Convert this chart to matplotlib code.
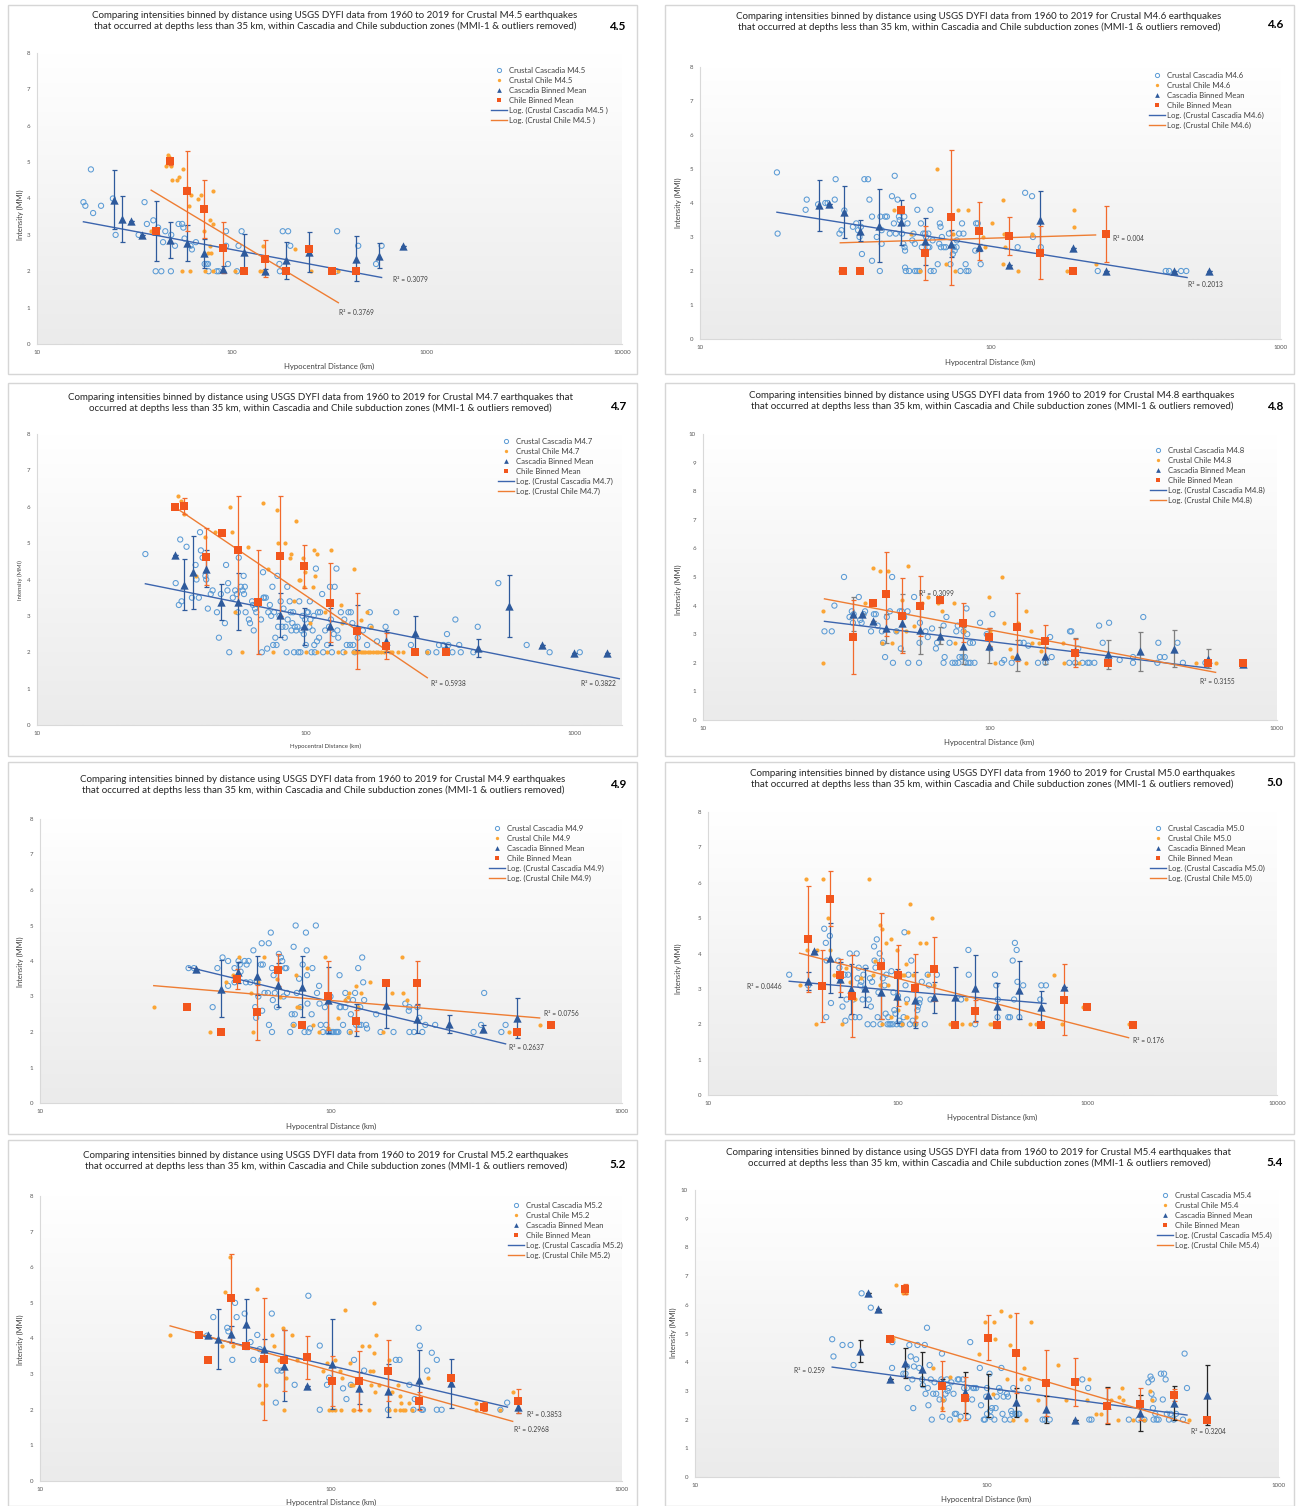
import numpy as np
import matplotlib.pyplot as plt
from matplotlib.colors import LinearSegmentedColormap
from matplotlib.lines import Line2D
from matplotlib.patches import Rectangle

plt.rcParams['font.family'] = ['Lato', 'DejaVu Sans']

W, H = 1299, 1506

# ---------------- data ----------------
# scatter: (distance km, MMI) ; binned: (distance km, mean MMI, error)
# fits: Log trendline y = a*ln(x) + b over [x0, x1]

# M4.5
cas45 = [(17.3,3.9),(17.7,3.8),(18.9,4.8),(19.4,3.6),(21.3,3.8),(25.3,3.0),(33.2,3.0),(35.6,3.9),(36.6,3.3),
         (39.5,3.4),(40.6,2.0),(43.4,2.0),(41.8,3.2),(44.3,2.8),(45.5,3.1),(48.6,2.0),(48.8,3.0),(51.0,2.7),
         (53.2,3.3),(55.5,3.3),(56.3,3.2),(57.1,2.9),(61.3,2.7),(62.3,2.6),(65.3,2.8),(72.4,2.2),(74.1,2.2),
         (75.3,2.2),(75.9,2.0),(83.5,2.0),(85.5,2.0),(93.2,3.1),(93.2,2.7),(95.4,2.2),(108,2.7),(112,3.1),
         (106,2.0),(175,2.2),(176,2.0),(182,3.1),(194,3.1),(199,2.7),(343,2.0),(346,3.1),(444,2.7),(548,2.2),
         (585,2.7),(24.5,4.0)]
chi45 = [(46.9,5.2),(47.8,5.15),(45.9,4.9),(48.4,4.9),(49.1,4.5),(52.1,4.5),(53.4,4.6),(55.8,4.8),(59.1,4.3),
         (59.9,3.8),(61.6,4.1),(66.8,4.0),(69.3,4.1),(79.7,4.2),(77.1,3.4),(79.7,3.3),(71.8,3.1),(38.2,3.1),
         (55.1,2.0),(60.8,2.0),(72.4,2.0),(77.8,2.5),(77.1,2.7),(80.0,2.0),(103,2.0),(112,2.0),(145,2.7),
         (145,2.0),(139,2.0),(210,2.6),(253,2.0),(351,2.0),(75,2.5)]
cbin45 = [(24.7,3.97,0.82),(27.2,3.44,0.63),(30.5,3.39,0),(34.7,3.0,0),(40.6,3.1,0.82),(48.1,2.86,0.5),
          (58.5,2.77,0.5),(72.2,2.5,0.4),(89.9,2.05,0.1),(115,2.52,0.5),(147,2.0,0.05),(190,2.3,0.5),
          (248,2.53,0.55),(430,2.34,0.62),(566,2.43,0.35),(753,2.69,0)]
hbin45 = [(40.6,3.1,0),(48.1,5.02,0.1),(58.5,4.21,1.1),(72.2,3.71,0.8),(90,2.65,0.7),(115,2.0,0),
          (147,2.35,0.5),(189,2.0,0),(248,2.6,0),(327,2.0,0),(430,2.0,0)]
fit45 = [(-0.435, 4.60, 17.3, 585), (-1.40, 9.34, 38.5, 351)]

# M4.6
cas46 = [(18.4,4.9),(18.5,3.1),(23.1,3.8),(23.3,4.1),(25.5,3.96),(27.0,4.0),(27.5,4.0),(29.1,4.1),(29.3,4.7),
         (30.2,3.1),(30.7,3.2),(31.4,3.78),(33.6,3.3),(34.5,3.4),(35.0,3.2),(35.4,3.0),(35.8,3.3),(36.1,2.5),
         (36.8,4.7),(37.9,4.7),(38.3,4.1),(39.1,3.6),(39.1,2.3),(40.6,3.0),(41.6,2.0),(41.8,3.6),(42.2,3.2),
         (42.2,2.8),(43.4,3.6),(44.0,3.6),(45.0,3.1),(45.8,4.2),(46.5,3.4),(46.8,4.8),(47.2,3.1),(47.9,4.1),
         (48.4,3.6),(48.7,3.5),(49.5,3.8),(49.6,3.1),(50.1,2.8),(50.5,3.6),(50.6,2.7),(50.8,2.6),(50.8,2.1),
         (51.1,2.0),(51.8,3.4),(52.5,2.0),(53.8,2.9),(54.2,4.2),(54.3,3.1),(54.9,2.8),(55.0,2.0),(55.9,2.0),
         (56.0,3.8),(56.9,2.0),(57.6,3.4),(58.0,2.7),(58.7,3.1),(59.6,3.1),(60.0,3.0),(60.9,2.7),(61.1,3.1),
         (61.6,2.7),(62.1,3.8),(62.2,2.0),(63.2,2.9),(63.8,2.0),(65.8,2.2),(66.6,2.8),(66.9,3.4),(67.3,3.3),
         (67.5,2.7),(68.0,3.0),(69.1,2.7),(70.2,2.7),(71.9,3.1),(72.8,2.2),(74.2,2.5),(74.6,2.7),(75.3,2.6),
         (76.4,2.7),(76.6,2.9),(78.0,3.1),(78.8,2.0),(79.8,3.4),(80.7,3.1),(82.1,2.2),(82.6,2.0),(84.0,2.0),
         (89.2,3.4),(90.4,3.4),(88.6,2.6),(92.5,2.2),(124,2.7),(131.6,4.3),(139,4.2),(140,3.0),(149,2.7),
         (234,2.0),(401,2.0),(412,2.0),(453,2.0),(472,2.0)]
chi46 = [(30.4,2.0),(31.0,2.0),(35.0,2.0),(35.6,2.0),(46.6,3.8),(53.3,3.1),(57.4,2.0),(65.5,5.0),(70.0,2.2),
         (74.1,3.1),(75.5,2.0),(77.5,3.8),(83.5,3.8),(94.1,3.0),(95.6,2.7),(101.3,3.4),(110,4.1),(110.6,2.2),
         (111,3.1),(112,2.7),(124,2.0),(139,3.1),(183,2.0),(194,3.8),(194,3.3),(230,2.2)]
cbin46 = [(25.6,3.94,0.75),(27.9,3.97,0),(31.4,3.74,0.76),(35.6,3.19,0.3),(41.4,3.33,1.07),(49.0,3.43,0.66),
          (59.6,2.87,0.7),(73,2.8,0.4),(91.5,2.7,0.1),(115.5,2.19,0),(148,3.5,0.85),(192,2.68,0),(249,2.0,0),
          (428,2.0,0),(567,2.0,0)]
hbin46 = [(31.0,2.0,0),(35.5,2.0,0),(49.2,3.8,0.1),(59.6,2.53,0.78),(73,3.58,1.98),(91.5,3.17,0.86),
          (116,3.03,0.56),(148,2.54,0.78),(192,2.0,0),(250,3.09,0.83)]
fit46 = [(-0.591, 5.45, 18.4, 475), (0.114, 2.44, 30.4, 230)]

# M4.7
cas47 = [(25.3,4.7),(32.8,3.9),(33.7,3.3),(34.1,5.1),(34.5,3.4),(36.0,4.9),(37.7,3.5),(38.9,4.4),(39.2,4.0),
         (40.0,3.5),(40.4,5.3),(40.7,4.8),(41.3,4.6),(42.3,4.1),(42.6,4.0),(43.2,3.2),(44.3,3.6),(45.0,3.7),
         (46.7,3.1),(47.5,2.4),(48.3,3.6),(50.0,2.8),(50.5,4.4),(51.1,3.7),(51.4,3.9),(51.9,2.0),(53.5,3.5),
         (54.6,3.7),(55.4,3.6),(55.9,3.1),(56.3,4.6),(57.3,3.8),(58.2,3.7),(58.7,4.1),(58.9,3.6),(59.3,3.8),
         (59.7,3.1),(61.4,2.9),(62.0,2.8),(63.1,3.4),(63.6,3.3),(64.0,2.6),(64.7,3.2),(65.4,3.1),(66.9,3.4),
         (68.1,2.9),(68.6,2.0),(69.3,4.2),(69.6,3.5),(70.0,3.5),(71.0,3.5),(71.8,2.1),(72.5,3.1),(73.5,3.3),
         (74.3,3.0),(75.1,3.8),(75.6,2.2),(76.2,3.1),(77.0,2.4),(77.8,2.2),(78.4,4.1),(78.9,2.7),(79.8,3.0),
         (80.6,3.4),(81.8,2.7),(82.6,3.2),(83.5,2.4),(84.1,2.7),(84.8,2.0),(85.3,3.8),(85.6,2.9),(87.1,3.4),
         (87.8,3.1),(88.4,2.6),(89.1,2.8),(89.7,3.1),(90.4,2.0),(91.0,2.7),(92.1,2.6),(93.1,2.7),(93.8,2.0),
         (94.5,3.4),(95.5,2.0),(96.5,2.6),(97.2,3.0),(98.3,2.5),(99.3,2.9),(100,2.2),(101,3.1),(102,3.1),
         (103,2.7),(103.5,3.4),(104,2.9),(105,2.0),(106,2.6),(107,3.0),(107.5,2.2),(108,2.0),(109,4.3),
         (110,2.3),(111,3.1),(112,2.4),(113,3.1),(115,3.6),(116,2.0),(118,2.6),(120,2.2),(122,2.7),(123,3.8),
         (124,2.9),(125,2.0),(127,2.5),(128,3.8),(130,4.3),(131,2.6),(132,2.4),(135,3.1),(138,2.0),(139,2.9),
         (142,2.2),(144,3.1),(146,2.2),(147,3.1),(149,2.8),(150,2.2),(152,2.0),(154,2.6),(156,2.4),(163,2.6),
         (169,2.2),(173,3.1),(174,2.7),(184,2.3),(198,2.7),(200,2.2),(217,3.1),(246,2.2),(285,2.0),(306,2.0),
         (313,2.2),(325,2.2),(335,2.5),(339,2.2),(351,2.0),(360,2.9),(372,2.2),(377,2.0),(420,2.0),(436,2.7),
         (520,3.9),(663,2.2),(807,2.0),(1045,2.0)]
chi47 = [(32.0,6.0),(32.8,6.05),(33.6,6.3),(34.3,6.15),(35.3,5.8),(42.3,5.18),(39.2,4.1),(45.9,5.3),(52.2,6.0),
         (53.0,5.3),(54.4,3.1),(58.1,2.0),(60.8,4.9),(69.2,6.1),(72.5,4.3),(75.6,2.0),(78.4,5.9),(78.9,5.0),
         (83.5,5.0),(88.2,4.7),(87.5,4.6),(90.4,3.4),(92.2,5.6),(94.5,4.0),(95.3,4.0),(97.2,4.6),(98.3,3.8),
         (99.3,4.2),(100,2.0),(107,4.8),(108,4.1),(110,4.7),(106,3.8),(104,2.8),(118,3.1),(124,4.8),(135,3.3),
         (136,2.8),(151,4.3),(160,2.9),(169,3.1),(175,2.7),(150,2.0),(153,2.0),(157,2.0),(160,2.0),(163,2.0),
         (166,2.0),(170,2.0),(174,2.0),(178,2.0),(182,2.0),(186,2.0),(190,2.0),(195,2.0),(205,2.0),(210,2.0),
         (220,2.0),(230,2.0),(251,2.0),(283,2.0),(110,2.0),(120,2.0),(132,2.0),(140,2.0)]
cbin47 = [(32.7,4.68,0),(35.3,3.86,0.7),(38.2,4.2,1.0),(42.6,4.3,0.5),(48.3,3.38,0.5),(55.9,3.39,0.78),
          (80,3.03,0.6),(98.3,2.71,0.5),(123,2.71,0.5),(155,2.67,0.62),(198,2.32,0.3),(255,2.53,0.47),
          (333,2.12,0.1),(436,2.12,0.24),(571,3.26,0.85),(755,2.19,0),(998,1.98,0),(1321,1.98,0)]
hbin47 = [(32.7,6.0,0),(35.3,6.03,0.22),(42.6,4.63,0.78),(48.6,5.28,0),(56.1,4.8,1.5),(66.5,3.39,1.43),
          (80,4.65,1.65),(98.3,4.36,0.6),(123,3.36,1.08),(155,2.59,1.05),(198,2.17,0.35),(255,2.0,0),(333,2.0,0)]
fit47 = [(-0.643, 5.96, 25.3, 1466), (-2.17, 13.55, 32.7, 283)]

# M4.8
cas48 = [(26.5,3.1),(28.1,3.1),(28.7,4.0),(31.0,5.0),(32.4,3.6),(33.0,3.8),(33.3,3.4),(33.5,3.7),(34.9,4.3),
         (35.3,3.5),(35.7,3.4),(36.3,3.7),(36.7,3.8),(38.5,3.1),(39.4,3.7),(40.0,3.7),(40.6,3.3),(42.0,3.1),
         (42.4,2.7),(43.1,2.2),(43.7,3.6),(44.8,3.8),(45.6,5.0),(45.9,2.0),(47.2,3.1),(48.5,3.8),(48.9,2.5),
         (49.3,3.8),(50.2,3.6),(51.6,3.8),(51.9,2.0),(54.4,4.3),(56.6,2.0),(56.8,2.7),(57.0,3.4),(59.6,3.1),
         (60.7,2.9),(62.8,3.2),(64.8,2.5),(65.4,2.7),(68.9,3.3),(68.9,2.0),(69.5,2.2),(70.5,3.6),(72.3,2.7),
         (74.0,2.0),(75.6,2.0),(76.3,3.1),(77.2,3.3),(77.6,2.0),(78.3,2.2),(80.2,2.2),(80.9,3.1),(81.7,2.2),
         (82.2,2.0),(82.8,3.9),(83.3,3.0),(84.1,2.0),(85.1,2.7),(85.5,2.0),(87.2,2.7),(88.3,2.0),(92.3,3.4),
         (97.4,3.0),(100,2.5),(102,3.7),(110,2.0),(112,2.1),(119,2.0),(127,2.7),(131,2.7),(136,2.6),(147,2.0),
         (156,2.0),(162,2.9),(164,2.2),(189,2.0),(190,3.1),(192,3.1),(198,2.0),(203,2.5),(210,2.0),(219,2.0),
         (222,2.0),(231,2.0),(240,3.3),(247,2.7),(260,3.4),(283,2.1),(315,2.2),(315,2.0),(342,3.6),(383,2.0),
         (386,2.7),(391,2.2),(406,2.2),(450,2.7),(470,2.0),(563,2.0),(575,2.0)]
chi48 = [(26.2,3.8),(26.2,2.0),(36.8,4.1),(39.1,5.3),(41.3,5.2),(44.0,5.2),(42.0,2.7),(45.5,2.7),(47.0,3.1),
         (49.3,4.2),(50.9,3.1),(51.8,5.4),(54.4,3.3),(57.9,4.1),(60.9,4.3),(66.1,4.1),(68.2,3.8),(74.7,4.1),
         (75.8,2.7),(81.2,3.1),(98.9,4.3),(100,3.1),(104,2.0),(110,5.0),(112,3.4),(117,2.5),(119,2.2),(125,3.4),
         (134,3.8),(134,2.0),(139,3.1),(140,2.7),(148,2.7),(151,2.4),(180,2.7),(181,2.0),(205,2.0),(522,2.0),
         (611,2.0)]
cbin48 = [(33.3,3.7,0.6),(35.7,3.7,0),(39.0,3.45,0),(43.5,3.2,0.5),(49.2,3.4,1.0),(56.9,3.15,0.85),
          (66.9,2.95,0.3),(80.8,2.6,0.65),(98.9,2.6,0.6),(124,2.25,0.55),(156,2.25,0.3),(198,2.4,0.45),
          (257,2.3,0.5),(334,2.4,0.67),(439,2.5,0.65),(574,2.15,0.33),(759,1.95,0.05)]
hbin48 = [(33.3,2.9,1.3),(39.0,4.1,0),(43.5,4.4,1.48),(49.2,3.65,1.32),(56.9,4.0,1.05),(67,4.2,0.1),
          (80.8,3.4,0.68),(98.9,2.9,0.3),(124,3.25,1.2),(156,2.75,0.58),(198,2.35,0.48),(257,2.0,0.08),
          (574,2.0,0),(759,2.0,0.07)]
fit48 = [(-0.531, 5.19, 26.5, 582), (-0.819, 6.92, 26.5, 611)]

# M4.9
cas49 = [(32.4,3.8),(33.8,3.8),(39.2,2.7),(40.7,3.8),(42.4,4.1),(44.3,4.0),(44.3,3.3),(46.6,3.4),(46.6,3.8),
         (48.1,4.0),(48.6,3.9),(48.9,3.7),(50.5,4.0),(51.0,3.4),(51.3,3.9),(52.1,4.0),(52.8,3.4),(54.1,4.3),
         (54.9,2.7),(55.3,2.4),(55.6,3.4),(56.3,3.0),(57.4,3.9),(57.8,4.5),(58.3,3.9),(58.0,2.6),(59.1,3.1),
         (60.7,3.1),(61.1,4.5),(61.2,2.2),(62.1,4.8),(62.7,2.0),(62.7,3.8),(63.1,2.9),(63.5,3.6),(64.1,3.1),
         (65.2,2.7),(66.2,4.2),(67.3,4.1),(68.0,4.0),(68.7,3.0),(69.5,3.8),(70.2,3.8),(70.6,3.1),(72.4,2.0),
         (73.3,2.5),(74.4,4.4),(74.4,2.2),(75.1,2.5),(75.6,5.0),(76.3,3.1),(77.7,3.5),(78.6,2.7),(79.9,3.9),
         (81.1,2.0),(82.0,4.8),(82.5,4.3),(82.7,3.6),(83.0,2.8),(83.7,2.0),(84.7,2.1),(85.8,2.5),(86.3,3.8),
         (88.7,5.0),(89.5,3.1),(91.0,3.3),(91.3,2.8),(92.2,2.2),(93.8,2.0),(95.3,2.7),(96.3,2.2),(97.5,2.0),
         (98.6,2.0),(99.6,3.0),(100,2.0),(101,2.0),(102,2.0),(104,2.0),(105,2.0),(106,2.0),(107,3.6),(107,2.7),
         (108,2.7),(110,2.2),(112,3.1),(112,2.7),(114,2.9),(116,2.0),(117,2.5),(119,2.9),(121,3.1),(122,2.2),
         (124,3.8),(125,2.2),(126,2.7),(127,2.2),(128,4.1),(129,3.4),(130,2.9),(132,2.2),(133,2.1),(143,2.5),
         (148,2.0),(164,2.0),(180,2.8),(185,2.6),(186,2.7),(186,2.0),(193,2.0),(198,2.7),(201,2.4),(206,2.0),
         (211,2.2),(228,2.2),(309,2.0),(328,2.2),(336,3.1),(385,2.0),(398,2.2)]
chi49 = [(24.6,2.7),(38.3,2.0),(43.7,3.4),(45.9,3.6),(48.1,4.1),(52.9,3.1),(54.0,2.0),(56.0,3.4),(58.8,4.1),
         (65.2,3.5),(66.6,3.0),(74.1,2.2),(75.8,3.6),(76.3,2.7),(77.9,2.7),(82.5,3.8),(86.6,2.2),(91.0,2.0),
         (95.3,4.1),(97.5,2.1),(106,2.4),(112,2.9),(114,3.0),(115,3.1),(116,2.0),(122,3.3),(124,2.7),(127,3.1),
         (136,3.4),(151,2.0),(162,3.1),(176,4.1),(177,3.1),(183,2.9),(408,2.0),(521,2.2)]
cbin49 = [(34.4,3.77,0),(42.0,3.22,0.8),(47.8,3.68,0.3),(55.5,3.59,0.55),(65.9,3.33,0.62),(79.4,3.28,0.87),
          (97.6,2.9,0.92),(122,2.34,0.45),(154,2.77,0.65),(198,2.38,0.4),(254,2.22,0.25),(333,2.09,0.1),
          (435,2.39,0.57)]
hbin49 = [(32.1,2.7,0),(42.0,2.0,0),(47.7,3.5,0.28),(55.5,2.55,0.77),(65.7,3.74,0.45),(79.4,2.2,0),
          (97.6,3.02,0.97),(122,2.32,0.3),(154,3.39,0),(198,3.37,0.62),(435,1.99,0),(570,2.19,0)]
fit49 = [(-0.861, 6.82, 32.4, 398), (-0.298, 4.26, 24.6, 521)]

# M5.0
cas50 = [(26.8,3.4),(33.8,3.1),(41.0,4.7),(41.8,4.3),(42.0,2.2),(42.2,3.8),(43.9,4.5),(44.5,2.6),(48.6,3.8),
         (49.3,3.6),(49.8,3.3),(51.2,2.5),(52.5,3.4),(53.0,2.1),(53.8,2.7),(54.8,3.4),(55.9,4.0),(57.0,2.2),
         (58.4,2.7),(59.6,2.2),(60.8,4.0),(61.4,3.3),(62.3,3.6),(62.9,2.2),(63.6,3.1),(64.3,3.2),(65.3,2.7),
         (66.0,3.4),(67.0,3.0),(67.7,3.6),(69.4,2.0),(70.4,2.7),(71.4,3.3),(72.2,2.5),(73.3,3.2),(74.4,2.0),
         (75.1,4.2),(75.5,3.8),(76.4,3.6),(77.6,4.4),(78.4,2.2),(79.2,2.9),(80.4,4.0),(81.1,2.0),(82.4,3.8),
         (83.5,3.3),(85.4,3.1),(86.4,2.3),(87.2,3.4),(88.4,2.0),(89.2,2.2),(90.5,2.0),(91.8,2.0),(92.7,3.5),
         (94.1,2.0),(95.0,2.9),(96.0,2.4),(97.4,2.3),(98.8,2.0),(100.4,2.8),(101.9,2.1),(103.4,2.0),(105,2.0),
         (107.5,2.2),(108.6,4.6),(110,3.1),(112,2.7),(114,3.4),(116,2.0),(118,3.8),(120,2.1),(124,2.0),(127,2.4),
         (128,2.5),(130,2.6),(131,2.7),(134,3.2),(139,2.0),(144,3.4),(146,3.1),(149,2.7),(161,3.4),(216,2.7),
         (236,4.1),(237,3.4),(256,2.0),(326,3.4),(331,3.1),(336,2.2),(337,2.7),(383,2.2),(391,2.2),(404,3.8),
         (415,4.3),(424,4.1),(428,3.2),(411,2.7),(438,2.2),(459,3.1),(565,2.7),(572,3.1),(605,3.1)]
chi50 = [(30.4,3.1),(32.9,6.1),(33.1,4.1),(37.3,2.0),(40.3,6.1),(37.6,4.1),(42.7,5.0),(44.1,4.1),(46.3,3.4),
         (49.8,3.4),(50.8,2.0),(53.4,3.6),(56.0,3.2),(59.3,2.7),(64.3,3.3),(71.0,6.1),(73.9,3.4),(75.9,3.8),
         (81.0,4.8),(83.0,4.7),(79.6,3.6),(81.1,3.1),(82.3,2.0),(86.7,4.3),(89.2,3.1),(91.8,4.4),(92.7,2.2),
         (98.8,4.1),(98.8,2.7),(100,2.4),(105,3.4),(106,2.0),(108,3.4),(110,2.2),(112,2.2),(110,3.7),(111,2.6),
         (113,4.6),(116,5.4),(121,3.4),(123,2.0),(125,2.2),(131,4.3),(141,4.3),(144,3.4),(152,5.0),(155,3.1),
         (189,2.0),(218,2.0),(229,2.7),(240,2.0),(307,2.0),(313,2.0),(500,2.0),(537,2.0),(556,2.0),(670,3.4),
         (737,2.0),(953,2.5),(982,2.5),(1650,2.0),(1708,2.0)]
cbin50 = [(33.8,3.23,0.25),(36.4,4.08,0),(44.0,3.87,0.98),(49.5,3.27,0.5),(57.0,3.0,0.7),(67.6,3.03,0.55),
          (81.9,2.9,0.75),(98.9,2.8,0.77),(124,2.69,0.8),(156,2.76,0.43),(200,2.76,0.85),(257,3.03,0.93),
          (334,2.53,0.65),(438,2.96,0.82),(572,2.48,0.45),(757,3.06,0)]
hbin50 = [(33.8,4.42,1.5),(39.8,3.07,1.02),(44.0,5.55,0.78),(49.8,3.38,0.47),(57.3,2.8,1.15),(81.4,3.65,1.5),
          (100,3.38,0.85),(124,3.02,0.97),(156,3.56,0.9),(200,1.99,0),(257,2.37,0.32),(334,1.99,0),
          (572,1.99,0),(757,2.69,1.0),(990,2.48,0),(1741,1.99,0)]
fit50 = [(-0.202, 3.88, 26.8, 605), (-0.598, 6.05, 30.4, 1650)]

# M5.2
cas52 = [(37.5,4.08),(39.4,4.6),(44.0,4.3),(44.4,4.2),(45.8,3.4),(46.8,5.0),(47.4,4.6),(50.5,4.7),(52.9,3.9),
         (54.1,3.4),(55.8,4.1),(56.9,3.7),(57.7,3.4),(62.6,4.7),(64.6,2.2),(65.5,3.1),(67.6,3.1),(75.0,2.7),
         (83.6,5.2),(91.5,3.8),(91.5,2.0),(96.9,2.7),(98.5,2.9),(110,2.6),(113,2.3),(117,2.7),(120,3.4),
         (130,3.1),(157,2.0),(167,3.4),(172,3.4),(186,2.7),(194,2.3),(192,2.0),(200,4.3),(202,3.8),(205,2.0),
         (207,2.0),(214,3.1),(222,3.6),(231,3.4),(231,2.0),(240,2.0),(382,2.0),(403,2.2)]
chi52 = [(28.0,4.1),(42.1,3.8),(43.2,5.3),(44.9,6.3),(45.9,3.8),(55.5,5.4),(56.4,2.7),(57.9,2.2),(60.0,2.7),
         (62.9,4.1),(63.9,3.8),(66.5,3.4),(68.2,3.4),(68.6,4.3),(68.8,2.0),(70.0,2.9),(73.6,4.1),(76.4,3.4),
         (93.8,3.1),(97.2,3.3),(98.6,2.0),(101,2.0),(103,2.0),(103,3.4),(107,3.1),(108,2.0),(109,2.9),(112,4.8),
         (116,3.3),(117,2.7),(119,2.0),(119,2.7),(120,2.0),(126,2.0),(128,3.8),(135,3.8),(136,3.1),(137,2.7),
         (135,2.0),(139,3.1),(140,5.0),(140,3.6),(142,2.5),(143,4.1),(146,2.7),(158,2.0),(158,3.4),(162,2.5),
         (166,2.0),(170,2.7),(172,2.0),(173,2.4),(174,2.2),(177,2.0),(180,2.0),(186,2.2),(190,2.0),(216,2.9),
         (314,2.2),(316,2.0),(382,2.0),(421,2.5)]
cbin52 = [(37.7,4.1,0),(40.8,3.99,0.84),(45.3,4.12,0.22),(51.0,4.41,0.7),(58.8,3.7,0.3),(68.8,3.24,1.0),
          (82.6,2.68,0),(101,3.29,1.27),(125,2.6,0.45),(157,2.54,0.75),(200,2.84,0.83),(258,2.74,0.68),
          (438,2.08,0.17)]
hbin52 = [(35.3,4.1,0),(37.7,3.4,0),(45.3,5.13,1.25),(51.0,3.8,0),(58.8,3.42,1.72),(69.0,3.39,0.85),
          (82.6,3.47,0.6),(101,2.8,0.7),(125,2.82,0.83),(157,3.1,0.85),(200,2.24,0.25),(258,2.89,0.07),
          (335,2.09,0.12),(438,2.25,0.33)]
fit52 = [(-0.829, 7.05, 35.3, 404), (-0.989, 7.65, 28.0, 421)]

# M5.4
cas54 = [(29.5,4.8),(29.8,4.2),(32.0,4.6),(34.1,4.6),(34.9,3.9),(37.2,6.4),(40.0,5.9),(47.3,3.8),(47.4,4.7),
         (51.7,3.6),(52.6,3.6),(53.2,3.85),(53.5,3.1),(54.2,4.6),(54.8,4.2),(55.5,3.4),(55.9,2.4),(56.2,3.85),
         (57.2,4.1),(57.8,4.6),(58.6,3.8),(60.0,3.4),(60.3,3.2),(61.2,4.6),(61.6,2.9),(62.3,5.2),(62.7,3.1),
         (63.0,2.5),(63.6,3.9),(64.2,3.4),(64.7,2.0),(65.4,2.9),(66.1,3.3),(67.0,2.9),(68.8,2.7),(69.8,3.4),
         (70.1,4.3),(70.3,2.1),(71.0,2.7),(72.1,2.9),(72.8,3.4),(73.3,3.0),(74.0,3.1),(74.6,2.0),(75.5,3.3),
         (76.8,2.9),(77.6,2.2),(78.5,2.2),(79.4,3.4),(80.2,3.4),(81.2,2.1),(82.7,3.4),(83.5,3.1),(85.4,3.1),
         (86.2,2.1),(87.6,4.7),(88.9,2.7),(89.6,3.1),(90.4,3.1),(91.8,3.1),(94.5,3.8),(95.4,2.5),(97.5,2.0),
         (98.4,2.0),(99.4,2.8),(100,3.1),(100,2.2),(102,3.6),(102.5,2.3),(103,2.1),(104,2.4),(106,2.0),(107,2.4),
         (108,2.8),(110,3.1),(111,3.0),(112,3.8),(113,2.2),(114,2.8),(115,2.0),(117,2.9),(118,2.8),(120,2.0),
         (121,2.3),(122,2.2),(123,3.1),(125,2.2),(126,2.2),(128,2.2),(129,2.2),(138,3.1),(155,2.0),(158,2.0),
         (164,2.0),(212,3.4),(222,3.1),(224,2.0),(228,2.0),(306,2.0),(330,2.0),(346,2.0),(357,3.3),(363,3.5),
         (366,2.9),(367,3.4),(370,2.4),(372,2.7),(372,2.0),(377,2.2),(381,2.0),(387,2.0),(394,3.6),(400,2.7),
         (404,3.6),(409,3.4),(413,2.2),(420,2.0),(425,2.2),(436,2.0),(444,2.2),(469,2.0),(475,4.3),(484,3.1)]
chi54 = [(48.9,6.7),(51.6,6.4),(52.6,6.4),(47.6,4.8),(65.2,3.8),(70.0,2.4),(70.5,2.7),(74.5,3.5),(80.0,2.0),
         (83.8,2.7),(94.1,4.3),(98.4,5.4),(105,2.9),(106,5.4),(106.5,4.8),(112,5.8),(117,3.4),(120,5.6),
         (120,4.6),(123,2.0),(131,3.4),(134,3.8),(136,2.0),(139,3.4),(142,5.4),(150,2.7),(175,3.9),(187,2.7),
         (220,2.7),(224,3.4),(237,2.2),(245,2.2),(265,2.7),(281,2.0),(284,2.8),(289,3.1),(293,2.7),(363,3.0),
         (367,2.7),(491,2.0),(315,2.0),(346,2.0)]
cbin54 = [(36.8,4.4,0.38),(39.2,6.4,0),(42.4,5.87,0),(46.7,3.4,0),(52.4,3.97,0.53),(60.0,3.76,0.6),
          (70.1,3.3,0.1),(84.2,2.95,0.72),(101,2.85,0.75),(126,2.6,0.5),(159,2.36,0.47),(200,2.0,0),
          (258,2.5,0.65),(333,2.24,0.62),(436,2.58,0.6),(569,2.86,1.05)]
hbin54 = [(46.7,4.81,0),(52.4,6.56,0.17),(70.1,3.16,0.87),(84.2,2.74,0.75),(101,4.86,0.8),(126,4.32,1.38),
          (159,3.26,1.15),(200,3.31,0.85),(258,2.49,0.6),(333,2.54,0.55),(436,2.85,0.2),(569,2.0,0)]
fit54 = [(-0.597, 5.85, 29.5, 484), (-1.30, 9.92, 46.7, 491)]

mags = ['4.5', '4.6', '4.7', '4.8', '4.9', '5.0', '5.2', '5.4']
r2_vals = [('0.3079', '0.3769'), ('0.2013', '0.004'), ('0.3822', '0.5938'), ('0.3155', '0.3099'),
           ('0.2637', '0.0756'), ('0.0446', '0.176'), ('0.3853', '0.2968'), ('0.259', '0.3204')]

# ---------------- layout (pixels in the 1299x1506 picture) ----------------
T1 = ("Comparing intensities binned by distance using USGS DYFI data from 1960 to 2019 for Crustal M{} earthquakes\n"
      "that occurred at depths less than 35 km, within Cascadia and Chile subduction zones (MMI-1 & outliers removed)")
T2 = ("Comparing intensities binned by distance using USGS DYFI data from 1960 to 2019 for Crustal M{} earthquakes that\n"
      "occurred at depths less than 35 km, within Cascadia and Chile subduction zones (MMI-1 & outliers removed)")

panels = [
    dict(frame=(8, 5, 637, 374), plot=(37, 53, 622, 344), xlim=(10, 10000), ylim=8, title=T1, tc=(335, 21),
         num=(617, 26), ylab=(20, 215), xlab=(329, 366), leg=(491, 67), data=(cas45, chi45, cbin45, hbin45, fit45),
         r2pos=[(671, 1.76), (354, 0.86)], cerr='#2e5a9c', lsize=5.4, sp=' '),
    dict(frame=(665, 5, 1294, 374), plot=(700, 67, 1281, 339), xlim=(10, 1000), ylim=8, title=T1, tc=(979, 22),
         num=(1275, 25), ylab=(678, 203), xlab=(990, 362), leg=(1149, 72), data=(cas46, chi46, cbin46, hbin46, fit46),
         r2pos=[(480, 1.59), (265, 2.97)], cerr='#2e5a9c', lsize=5.4, sp=''),
    dict(frame=(8, 383, 637, 756), plot=(37, 434, 622, 725), xlim=(10, 1500), ylim=8, title=T2, tc=(320, 403),
         num=(618, 407), ylab=(20, 580), xlab=(325, 746), leg=(498, 438), data=(cas47, chi47, cbin47, hbin47, fit47),
         r2pos=[(1057, 1.14), (293, 1.14)], cerr='#2e5a9c', lsize=4.2, sp=''),
    dict(frame=(665, 383, 1294, 756), plot=(703, 434, 1277, 720), xlim=(10, 1000), ylim=10, title=T1, tc=(992, 401),
         num=(1275, 407), ylab=(678, 590), xlab=(989, 742), leg=(1150, 447), data=(cas48, chi48, cbin48, hbin48, fit48),
         r2pos=[(537, 1.34), (56.5, 4.44)], cerr='#7f7f7f', lsize=5.4, sp=''),
    dict(frame=(8, 762, 637, 1134), plot=(40, 819, 622, 1103), xlim=(10, 1000), ylim=8, title=T1, tc=(323, 785),
         num=(618, 785), ylab=(20, 962), xlab=(331, 1126), leg=(489, 825), data=(cas49, chi49, cbin49, hbin49, fit49),
         r2pos=[(408, 1.55), (538, 2.51)], cerr='#2e5a9c', lsize=5.4, sp=''),
    dict(frame=(665, 762, 1294, 1134), plot=(708, 812, 1277, 1095), xlim=(10, 10000), ylim=8, title=T1, tc=(992, 779),
         num=(1275, 783), ylab=(678, 969), xlab=(992, 1117), leg=(1150, 825), data=(cas50, chi50, cbin50, hbin50, fit50),
         r2pos=[(16.1, 3.08), (1734, 1.53)], cerr='#2e5a9c', lsize=5.4, sp=''),
    dict(frame=(8, 1140, 637, 1506), plot=(40, 1196, 622, 1481), xlim=(10, 1000), ylim=8, title=T1, tc=(326, 1161),
         num=(618, 1164), ylab=(20, 1340), xlab=(331, 1502), leg=(508, 1202), data=(cas52, chi52, cbin52, hbin52, fit52),
         r2pos=[(470, 1.86), (427, 1.44)], cerr='#2e5a9c', lsize=5.4, sp=''),
    dict(frame=(665, 1140, 1294, 1506), plot=(695, 1190, 1279, 1477), xlim=(10, 1000), ylim=10, title=T2, tc=(979, 1158),
         num=(1275, 1162), ylab=(673, 1333), xlab=(986, 1499), leg=(1157, 1192), data=(cas54, chi54, cbin54, hbin54, fit54),
         r2pos=[(21.9, 3.71), (499, 1.59)], cerr='#262626', lsize=5.4, sp=''),
]

C_CAS = '#5b9bd5'
C_CHI = '#fba535'
C_TRI = '#2e5a9c'
C_SQ = '#f2561d'
C_SQE = '#f26a2c'
L_BLUE = '#3c65ae'
L_ORNG = '#ee7d33'
TXT = '#404040'

grad = LinearSegmentedColormap.from_list('plotarea', ['#ffffff', '#ebebeb'])

fig = plt.figure(figsize=(W / 100, H / 100), dpi=100)
fig.patch.set_facecolor('white')


def fx(px):
    return px / W


def fy(py):
    return 1 - py / H


for p, mag, r2 in zip(panels, mags, r2_vals):
    x0, y0, x1, y1 = p['frame']
    fig.patches.append(Rectangle((fx(x0), fy(y1)), fx(x1) - fx(x0), fy(y0) - fy(y1), transform=fig.transFigure,
                                 fill=False, ec='#d6d6d6', lw=1.0, zorder=0))
    L, T, R, B = p['plot']
    rect = [fx(L), fy(B), fx(R) - fx(L), fy(T) - fy(B)]
    bg = fig.add_axes(rect, zorder=0)
    bg.imshow(np.linspace(0, 1, 256).reshape(-1, 1), aspect='auto', cmap=grad, extent=[0, 1, 0, 1])
    bg.axis('off')

    ax = fig.add_axes(rect, zorder=1)
    ax.set_facecolor('none')
    ax.set_xscale('log')
    ax.set_xlim(*p['xlim'])
    ax.set_ylim(0, p['ylim'])
    dec = [10 ** k for k in range(1, 5) if 10 ** k <= p['xlim'][1]]
    ax.set_xticks(dec)
    ax.set_xticklabels([str(d) for d in dec])
    ax.minorticks_off()
    ax.set_yticks(range(0, p['ylim'] + 1))
    ax.tick_params(length=0, labelsize=4.4, labelcolor='#595959')
    ax.tick_params(axis='y', pad=5)
    ax.tick_params(axis='x', pad=4)
    for s in ['top', 'right']:
        ax.spines[s].set_visible(False)
    for s in ['left', 'bottom']:
        ax.spines[s].set_color('#d9d9d9')
        ax.spines[s].set_linewidth(0.8)

    cas, chi, cbin, hbin, fits = [np.array(d) for d in p['data']]
    ax.scatter(cas[:, 0], cas[:, 1], s=14, facecolors='none', edgecolors=C_CAS, linewidths=0.75, zorder=2)
    ax.scatter(chi[:, 0], chi[:, 1], s=9, color=C_CHI, linewidths=0, zorder=2.5)

    # log trendlines
    for (a, b, xa, xb), col in zip(fits, [L_BLUE, L_ORNG]):
        xs = np.geomspace(xa, xb, 60)
        ax.plot(xs, a * np.log(xs) + b, color=col, lw=1.0, zorder=3)

    ax.errorbar(cbin[:, 0], cbin[:, 1], yerr=cbin[:, 2], fmt='none', ecolor=p['cerr'], elinewidth=0.9,
                capsize=1.8, capthick=0.9, zorder=3.5)
    ax.errorbar(hbin[:, 0], hbin[:, 1], yerr=hbin[:, 2], fmt='none', ecolor=C_SQE, elinewidth=0.9,
                capsize=1.8, capthick=0.9, zorder=3.6)
    ax.scatter(cbin[:, 0], cbin[:, 1], s=36, marker='^', color=C_TRI, linewidths=0, zorder=4)
    ax.scatter(hbin[:, 0], hbin[:, 1], s=26, marker='s', color=C_SQ, linewidths=0, zorder=4.1)

    for (tx, ty), val in zip(p['r2pos'], r2):
        ax.text(tx, ty, 'R² = ' + val, fontsize=4.8, color=TXT, va='center', ha='left', zorder=5)

    # texts
    fig.text(fx(p['tc'][0]), fy(p['tc'][1]), p['title'].format(mag), ha='center', va='center', fontsize=7.0,
             linespacing=1.25, color='#262626')
    fig.text(fx(p['num'][0]), fy(p['num'][1]), mag, ha='center', va='center', fontsize=8.5, fontweight='bold',
             color='black')
    fig.text(fx(p['ylab'][0]), fy(p['ylab'][1]), 'Intensity (MMI)', rotation=90, ha='center', va='center',
             fontsize=p['lsize'], color=TXT)
    fig.text(fx(p['xlab'][0]), fy(p['xlab'][1]), 'Hypocentral Distance (km)', ha='center', va='center',
             fontsize=p['lsize'] + 0.2, color=TXT)

    sp = p['sp']
    handles = [Line2D([], [], ls='none', marker='o', mfc='none', mec=C_CAS, ms=3.0, mew=0.7),
               Line2D([], [], ls='none', marker='o', color=C_CHI, ms=2.4, mew=0),
               Line2D([], [], ls='none', marker='^', color=C_TRI, ms=3.4, mew=0),
               Line2D([], [], ls='none', marker='s', color=C_SQ, ms=3.0, mew=0),
               Line2D([], [], color=L_BLUE, lw=1.0),
               Line2D([], [], color=L_ORNG, lw=1.0)]
    labels = ['Crustal Cascadia M' + mag, 'Crustal Chile M' + mag, 'Cascadia Binned Mean', 'Chile Binned Mean',
              'Log. (Crustal Cascadia M' + mag + sp + ')', 'Log. (Crustal Chile M' + mag + sp + ')']
    fig.legend(handles, labels, loc='upper left', bbox_to_anchor=(fx(p['leg'][0]), fy(p['leg'][1])),
               frameon=False, fontsize=5.6, handlelength=2.0, handletextpad=0.3, labelspacing=0.38,
               borderpad=0, borderaxespad=0, labelcolor=TXT)

fig.savefig('out.png', dpi=100, facecolor='white')
